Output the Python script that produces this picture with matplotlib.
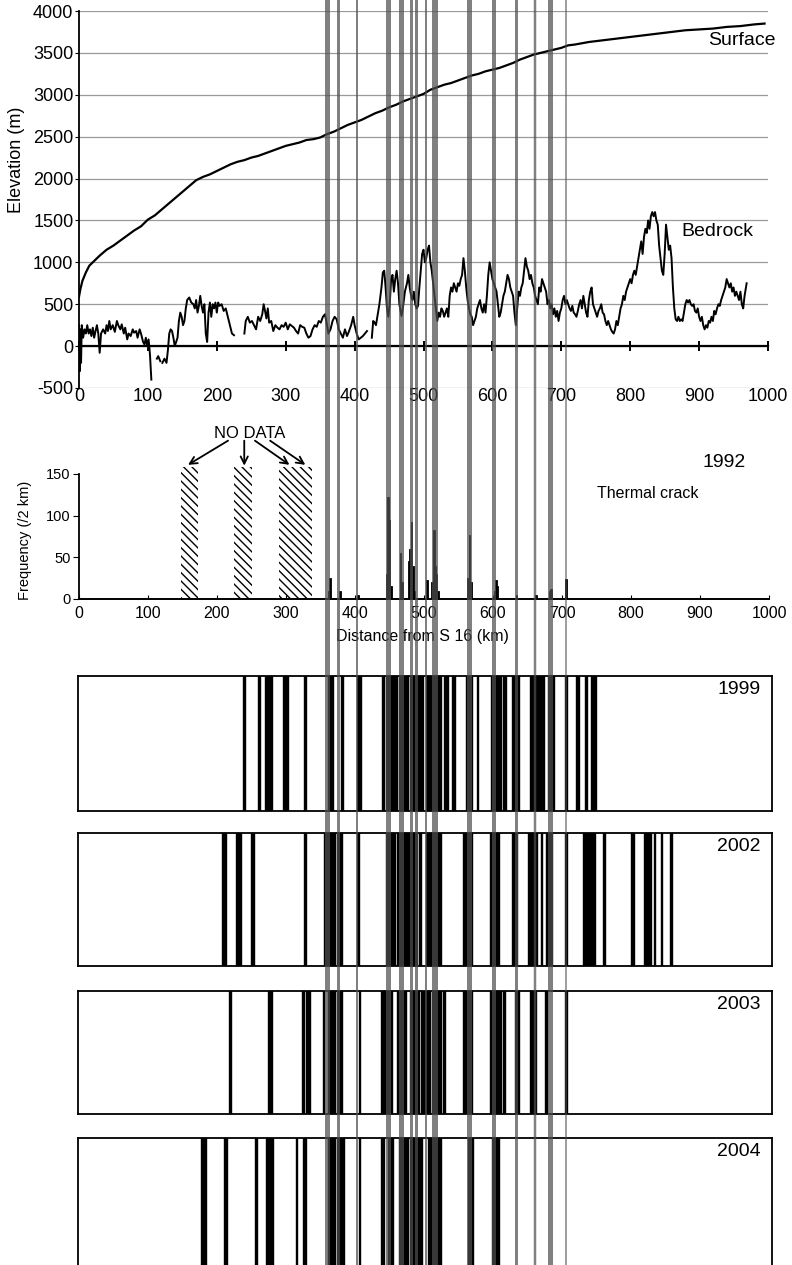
"""Elevation profile, thermal-crack frequency and crack-zone barcodes along the traverse."""
import numpy as np
import matplotlib
matplotlib.use("Agg")
import matplotlib.pyplot as plt
from matplotlib.patches import Rectangle

plt.rcParams["font.family"] = ["Liberation Sans", "DejaVu Sans"]
plt.rcParams["axes.unicode_minus"] = False

# ---- data -----------------------------------------------------------------
surface = [
    (0, 590), (2, 680), (5, 780), (10, 880), (15, 960), (20, 1000), (30, 1080),
    (40, 1150), (50, 1200), (60, 1260), (70, 1320), (80, 1380), (90, 1430),
    (100, 1510), (110, 1560), (120, 1630), (130, 1700), (140, 1770), (150, 1840),
    (160, 1910), (170, 1980), (180, 2020), (190, 2050), (200, 2090), (210, 2130),
    (220, 2170), (230, 2200), (240, 2220), (250, 2250), (260, 2270), (270, 2300),
    (280, 2330), (290, 2360), (300, 2390), (310, 2410), (320, 2430), (330, 2460),
    (340, 2470), (350, 2490), (360, 2530), (370, 2560), (380, 2600), (390, 2640),
    (400, 2670), (410, 2700), (420, 2740), (430, 2780), (440, 2810), (450, 2850),
    (460, 2880), (470, 2920), (480, 2950), (490, 2980), (500, 3010), (510, 3060),
    (520, 3090), (530, 3120), (540, 3140), (550, 3170), (560, 3200), (570, 3230),
    (580, 3250), (590, 3280), (600, 3300), (610, 3320), (620, 3350), (630, 3380),
    (640, 3420), (650, 3450), (660, 3480), (670, 3500), (680, 3520), (690, 3540),
    (700, 3560), (710, 3590), (720, 3600), (730, 3615), (740, 3630), (750, 3640),
    (760, 3650), (770, 3660), (780, 3670), (790, 3680), (800, 3690), (820, 3710),
    (840, 3730), (860, 3750), (880, 3770), (900, 3780), (920, 3790), (940, 3810),
    (960, 3820), (980, 3840), (995, 3850),
]

bedrock = [
    (0, 250), (1, -300), (2, 200), (3, -200), (4, 250), (6, 100), (8, 200), (10, 150),
    (12, 250), (14, 150), (16, 200), (18, 120), (20, 220), (22, 100), (24, 180), (26, 250),
    (28, 150), (30, -80), (32, 150), (35, 200), (38, 150), (40, 250), (42, 180), (44, 300),
    (46, 200), (49, 250), (52, 170), (55, 300), (57, 250), (60, 200), (62, 260), (65, 150),
    (67, 220), (70, 80), (72, 150), (75, 120), (78, 200), (80, 160), (83, 180), (85, 100),
    (88, 200), (90, 150), (93, 50), (95, 20), (97, 100), (99, 0), (101, 80), (103, -100),
    (105, -400), (None, None),
    (113, -150), (115, -120), (118, -180), (None, None),
    (121, -200), (124, -150), (127, -200), (129, -50), (131, 150), (133, 200), (135, 180),
    (137, 100), (139, 0), (141, 50), (143, 100), (145, 300), (147, 400), (149, 350),
    (151, 250), (153, 300), (155, 450), (157, 550), (160, 580), (163, 520), (166, 500),
    (168, 450), (170, 550), (172, 400), (174, 480), (176, 600), (178, 480), (180, 400),
    (182, 500), (184, 150), (186, 50), (188, 400), (190, 520), (192, 350), (194, 500),
    (196, 450), (198, 520), (200, 400), (202, 520), (204, 480), (207, 500), (210, 420),
    (213, 450), (216, 350), (219, 250), (222, 150), (225, 130), (None, None),
    (240, 150), (242, 300), (245, 350), (248, 280), (251, 300), (254, 250), (257, 200),
    (260, 350), (263, 300), (266, 380), (268, 500), (270, 420), (272, 330), (274, 450),
    (276, 280), (279, 300), (282, 180), (285, 250), (288, 220), (291, 200), (294, 250),
    (297, 230), (300, 280), (303, 200), (306, 260), (309, 240), (312, 220), (315, 180),
    (318, 150), (321, 250), (324, 230), (327, 220), (330, 150), (333, 100), (336, 120),
    (339, 200), (342, 250), (345, 230), (348, 300), (351, 280), (354, 350), (357, 380),
    (360, 250), (362, 150), (365, 200), (368, 300), (371, 350), (374, 320), (377, 200),
    (380, 150), (383, 100), (386, 200), (389, 120), (392, 180), (395, 250), (398, 350),
    (400, 250), (403, 150), (406, 80), (409, 100), (412, 120), (415, 150), (418, 180),
    (None, None),
    (425, 100), (427, 300), (429, 280), (431, 250), (433, 350), (436, 500), (439, 700),
    (441, 880), (443, 900), (445, 700), (447, 450), (449, 350), (451, 500), (453, 800),
    (455, 850), (457, 650), (459, 800), (461, 900), (463, 750), (465, 500), (468, 360),
    (470, 450), (473, 650), (476, 750), (478, 850), (480, 700), (482, 600), (484, 550),
    (486, 650), (488, 500), (490, 450), (492, 480), (494, 700), (496, 900), (498, 1100),
    (500, 1150), (502, 1000), (504, 1050), (506, 1150), (508, 1200), (510, 1000),
    (512, 900), (514, 750), (516, 600), (518, 450), (520, 300), (522, 400), (524, 350),
    (526, 450), (528, 420), (530, 350), (532, 400), (534, 450), (536, 350), (538, 600),
    (540, 700), (542, 650), (544, 750), (546, 700), (548, 650), (550, 750), (552, 720),
    (554, 800), (556, 850), (558, 1050), (560, 900), (562, 700), (564, 550), (566, 450),
    (568, 380), (570, 350), (572, 250), (574, 300), (576, 350), (578, 450), (580, 500),
    (582, 550), (584, 450), (586, 400), (588, 500), (590, 400), (592, 600), (594, 850),
    (596, 1000), (598, 900), (600, 800), (602, 750), (604, 700), (606, 650), (608, 500),
    (610, 350), (612, 400), (614, 500), (616, 600), (618, 650), (620, 750), (622, 850),
    (624, 800), (626, 700), (628, 650), (630, 600), (632, 400), (634, 250), (636, 450),
    (638, 650), (640, 600), (642, 700), (644, 750), (646, 900), (648, 1050), (650, 950),
    (652, 900), (654, 800), (656, 850), (658, 750), (660, 700), (662, 600), (664, 550),
    (666, 500), (668, 700), (670, 650), (672, 800), (674, 750), (676, 700), (678, 650),
    (680, 500), (682, 550), (684, 450), (686, 500), (688, 380), (690, 450), (692, 350),
    (694, 420), (696, 300), (698, 400), (700, 450), (702, 550), (704, 600), (706, 500),
    (708, 550), (710, 500), (712, 450), (714, 420), (716, 480), (718, 400), (720, 380),
    (722, 350), (724, 420), (726, 500), (728, 550), (730, 450), (732, 600), (734, 500),
    (736, 400), (738, 350), (740, 550), (742, 650), (744, 700), (746, 500), (748, 450),
    (750, 400), (752, 350), (754, 420), (756, 450), (758, 500), (760, 400), (762, 380),
    (764, 300), (766, 250), (768, 300), (770, 250), (772, 200), (774, 170), (776, 150),
    (778, 200), (780, 300), (782, 250), (784, 350), (786, 450), (788, 500), (790, 600),
    (792, 550), (794, 650), (796, 700), (798, 750), (800, 800), (802, 750), (804, 850),
    (806, 900), (808, 850), (810, 950), (812, 1050), (814, 1150), (816, 1250), (818, 1100),
    (820, 1300), (822, 1400), (824, 1350), (826, 1500), (828, 1400), (830, 1550),
    (832, 1600), (834, 1550), (836, 1600), (838, 1500), (840, 1450), (842, 1200),
    (844, 1050), (846, 900), (848, 850), (850, 1100), (852, 1450), (854, 1300),
    (856, 1150), (858, 1200), (860, 1050), (862, 700), (864, 450), (866, 320), (868, 300),
    (870, 350), (872, 300), (874, 320), (876, 300), (878, 400), (880, 500), (882, 550),
    (884, 520), (886, 550), (888, 500), (890, 480), (892, 500), (894, 420), (896, 400),
    (898, 450), (900, 350), (902, 300), (904, 350), (906, 250), (908, 200), (910, 250),
    (912, 220), (914, 300), (916, 280), (918, 350), (920, 300), (922, 420), (924, 380),
    (926, 450), (928, 500), (930, 480), (932, 550), (934, 600), (936, 650), (938, 700),
    (940, 800), (942, 750), (944, 700), (946, 750), (948, 650), (950, 700), (952, 600),
    (954, 650), (956, 600), (958, 550), (960, 650), (962, 500), (964, 450), (966, 600),
    (968, 700), (969, 750),
]

# 1992 thermal crack frequency (/2 km)
freq_km = [362, 364, 378, 404, 446, 448, 450, 452, 466, 468, 478, 480, 482, 484, 486,
           504, 512, 514, 516, 518, 520, 564, 566, 568, 602, 604, 606, 634, 662, 682,
           684, 706]
freq_val = [10, 25, 10, 5, 30, 122, 95, 15, 55, 20, 45, 60, 92, 40, 10,
            23, 20, 83, 40, 30, 10, 25, 77, 20, 10, 23, 15, 5, 5, 10,
            12, 24]
no_data = [(148, 172), (225, 250), (290, 320), (320, 338)]

# crack zones per year: (start km, end km)
zones = {
    "1999": [(238, 241), (260, 262), (270, 280), (296, 303), (327, 330), (361, 368),
             (380, 383), (404, 410), (440, 442), (446, 461), (465, 477), (480, 499),
             (504, 526), (530, 535), (542, 545), (562, 571), (577, 579), (598, 613),
             (615, 620), (629, 639), (654, 664), (665, 675), (680, 690), (706, 708),
             (722, 726), (735, 738), (743, 751)],
    "2002": [(207, 213), (228, 235), (249, 254), (326, 330), (355, 371), (375, 381),
             (404, 407), (445, 458), (462, 491), (493, 497), (504, 526), (558, 571),
             (597, 610), (629, 636), (651, 657), (659, 665), (670, 672), (678, 687),
             (706, 708), (732, 749), (761, 763), (801, 806), (820, 830), (834, 836),
             (844, 846), (858, 860)],
    "2003": [(218, 220), (275, 280), (324, 326), (330, 335), (354, 356), (361, 371),
             (375, 381), (406, 408), (439, 455), (462, 475), (480, 494), (496, 509),
             (513, 526), (529, 531), (557, 571), (597, 613), (615, 619), (633, 638),
             (655, 664), (677, 679), (706, 708)],
    "2004": [(177, 184), (211, 215), (255, 259), (272, 281), (315, 317), (325, 330),
             (362, 371), (375, 385), (406, 408), (439, 443), (448, 456), (465, 477),
             (480, 498), (506, 511), (513, 526), (564, 572), (600, 610)],
}

# grey guide lines through all panels (km, width px)
guide_km = [360, 376, 403, 448, 467, 482, 489, 503, 517, 566, 603, 634, 662, 684, 707]
guide_w = [5, 3, 2, 5, 5, 3, 3, 2, 6, 5, 4, 3, 2.5, 5, 1.5]

# ---- layout ---------------------------------------------------------------
W, H = 792, 1265
X0, PX_PER_KM = 79, 0.689


def frac(x0, y0, x1, y1):
    return [x0 / W, 1 - y1 / H, (x1 - x0) / W, (y1 - y0) / H]


fig = plt.figure(figsize=(W / 100, H / 100), dpi=100)

# ---- elevation panel ------------------------------------------------------
ax = fig.add_axes(frac(79, 11, 768, 388))
s = np.array(surface, dtype=float)
b = np.array([(np.nan, np.nan) if k is None else (k, v) for k, v in bedrock], dtype=float)
ax.plot(s[:, 0], s[:, 1], color="black", lw=1.6)
ax.plot(b[:, 0], b[:, 1], color="black", lw=1.4)
ax.set_xlim(0, 1000)
ax.set_ylim(-500, 4000)
ax.set_yticks(np.arange(-500, 4001, 500))
ax.set_xticks(np.arange(0, 1001, 100))
ax.yaxis.grid(True, color="#9a9a9a", lw=0.9)
ax.set_axisbelow(True)
for side in ("top", "right"):
    ax.spines[side].set_visible(False)
ax.spines["bottom"].set_position(("data", 0))
ax.spines["bottom"].set_linewidth(1.6)
ax.spines["left"].set_linewidth(1.3)
ax.tick_params(axis="x", direction="inout", length=7, width=1.4, pad=27, labelsize=13)
ax.tick_params(axis="y", direction="out", length=3, pad=1, labelsize=13)
ax.text(962, 3653, "Surface", fontsize=14, ha="center", va="center")
ax.text(926, 1365, "Bedrock", fontsize=14, ha="center", va="center")
fig.text(17 / W, 1 - 160 / H, "Elevation (m)", rotation=90, fontsize=13,
         ha="center", va="center")

# ---- 1992 frequency panel -------------------------------------------------
axf = fig.add_axes(frac(79, 474, 769, 599))
axf.bar(freq_km, freq_val, width=2.5, color="black", edgecolor="black", lw=0.6)
for x0, x1 in no_data:
    axf.add_patch(Rectangle((x0, 0), x1 - x0, 158, fill=False, hatch="\\\\\\\\",
                            lw=0, edgecolor="black", clip_on=False))
axf.set_xlim(0, 1000)
axf.set_ylim(0, 150)
axf.set_yticks([0, 50, 100, 150])
axf.set_xticks(np.arange(0, 1001, 100))
for side in ("top", "right"):
    axf.spines[side].set_visible(False)
axf.spines["bottom"].set_linewidth(1.4)
axf.spines["left"].set_linewidth(1.3)
axf.tick_params(axis="x", direction="in", length=3, pad=5, labelsize=11.5)
axf.tick_params(axis="y", direction="out", length=4, pad=2, labelsize=10.5)
axf.text(248, 199, "NO DATA", fontsize=12, ha="center", va="center")
for (tx, ty), (hx, hy) in [((216, 190), (158, 161)), ((239.5, 190), (239.5, 160)),
                           ((255, 190), (305, 161)), ((277, 190), (328, 161))]:
    axf.annotate("", xy=(hx, hy), xytext=(tx, ty), annotation_clip=False,
                 arrowprops=dict(arrowstyle="->", lw=1.3, color="black",
                                 shrinkA=0, shrinkB=0, mutation_scale=13))
axf.text(935, 164, "1992", fontsize=14, ha="center", va="center")
axf.text(824, 127, "Thermal crack", fontsize=11.5, ha="center", va="center")
fig.text(25 / W, 1 - 540 / H, "Frequency (/2 km)", rotation=90, fontsize=10.5,
         ha="center", va="center")
fig.text(422 / W, 1 - 636 / H, "Distance from S 16 (km)", fontsize=11.5,
         ha="center", va="center")

# ---- yearly crack-zone barcodes -------------------------------------------
boxes = {"1999": (676, 811), "2002": (833, 966), "2003": (991, 1114), "2004": (1138, 1275)}
for year, (top, bottom) in boxes.items():
    axb = fig.add_axes(frac(78, top, 772, bottom))
    starts = [a for a, _ in zones[year]]
    widths = [e - a for a, e in zones[year]]
    axb.bar(starts, 1, width=widths, align="edge", color="black",
            edgecolor="black", lw=1.0)
    axb.set_xlim((78 - X0) / PX_PER_KM, (772 - X0) / PX_PER_KM)
    axb.set_ylim(0, 1)
    axb.set_xticks([])
    axb.set_yticks([])
    for sp in axb.spines.values():
        sp.set_linewidth(1.3)
    axb.annotate(year, xy=(1, 1), xycoords="axes fraction", xytext=(-24, -10),
                 textcoords="offset points", fontsize=14, ha="center", va="center")

# ---- grey guide lines across the whole figure -----------------------------
ov = fig.add_axes([0, 0, 1, 1], zorder=10)
ov.set_xlim(-X0 / PX_PER_KM, (W - X0) / PX_PER_KM)
ov.set_ylim(0, 1)
ov.axis("off")
ov.patch.set_alpha(0)
for km, w in zip(guide_km, guide_w):
    ov.axvline(km, color="#4f4f4f", lw=w * 0.72, alpha=0.72)

fig.savefig("out.png", dpi=100)
plt.close(fig)
